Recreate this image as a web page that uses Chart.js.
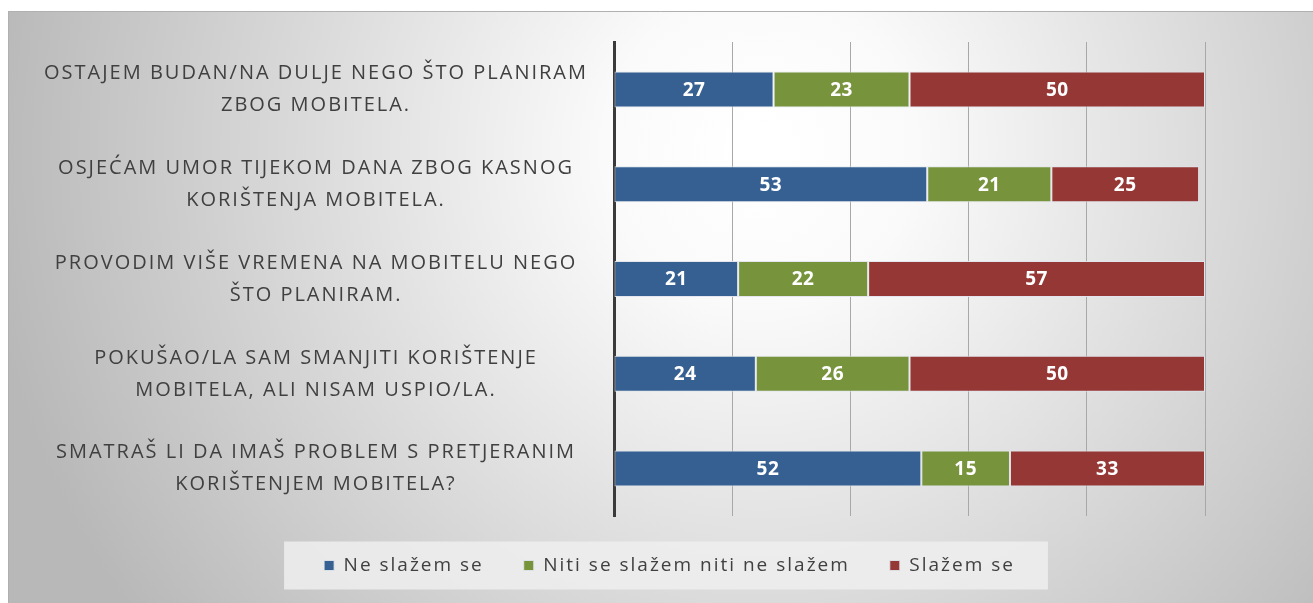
<!DOCTYPE html>
<html>
<head>
<meta charset="utf-8">
<script src="https://cdn.jsdelivr.net/npm/chart.js@4.4.0/dist/chart.umd.min.js"></script>
<style>
  html, body { margin: 0; padding: 0; background: #fff; }
  #wrap { width: 1313px; height: 603px; }
</style>
</head>
<body>
<div id="wrap"><canvas id="chart" width="1313" height="603"></canvas></div>
<script>
// podaci
const categories = [
  ['OSTAJEM BUDAN/NA DULJE NEGO ŠTO PLANIRAM', 'ZBOG MOBITELA.'],
  ['OSJEĆAM UMOR TIJEKOM DANA ZBOG KASNOG', 'KORIŠTENJA MOBITELA.'],
  ['PROVODIM VIŠE VREMENA NA MOBITELU NEGO', 'ŠTO PLANIRAM.'],
  ['POKUŠAO/LA SAM SMANJITI KORIŠTENJE', 'MOBITELA, ALI NISAM USPIO/LA.'],
  ['SMATRAŠ LI DA IMAŠ PROBLEM S PRETJERANIM', 'KORIŠTENJEM MOBITELA?']
];
const seriesNames = ['Ne slažem se', 'Niti se slažem niti ne slažem', 'Slažem se'];
const neSlazem = [27, 53, 21, 24, 52];
const niti = [23, 21, 22, 26, 15];
const slazem = [50, 25, 57, 50, 33];
const xMin = 0, xMax = 100, xStep = 20;

const colors = ['#376092', '#77933C', '#953735'];
const fontFamily = "'Open Sans', 'Liberation Sans', sans-serif";
const PAD_LEFT = 20;
const PLOT_LEFT = 614;   // gdje pocinje os
const LEGEND_SHIFT = 57; // legenda je malo desno od sredine

// pozadina s gradijentom i okvir legende
const backgroundPlugin = {
  id: 'background',
  beforeUpdate(chart) {
    chart.ctx.letterSpacing = '2px';
  },
  afterLayout(chart) {
    chart.legend.left += LEGEND_SHIFT;
    chart.legend.right += LEGEND_SHIFT;
  },
  beforeDraw(chart) {
    const ctx = chart.ctx;
    const w = chart.width, h = chart.height;
    ctx.save();
    ctx.fillStyle = '#ffffff';
    ctx.fillRect(0, 0, w, h);
    const g = ctx.createRadialGradient(760, 150, 20, 760, 150, 780);
    g.addColorStop(0, '#ffffff');
    g.addColorStop(0.18, '#fafafa');
    g.addColorStop(1, '#b8b8b8');
    ctx.fillStyle = g;
    ctx.fillRect(8, 11, w - 8, h - 11);
    ctx.strokeStyle = '#b0b0b0';
    ctx.lineWidth = 1;
    ctx.beginPath();
    ctx.moveTo(8.5, h);
    ctx.lineTo(8.5, 11.5);
    ctx.lineTo(w, 11.5);
    ctx.stroke();

    const boxes = chart.legend.legendHitBoxes;
    if (boxes && boxes.length) {
      const first = boxes[0], last = boxes[boxes.length - 1];
      const cy = first.top + first.height / 2;
      ctx.fillStyle = 'rgba(238, 238, 238, 0.85)';
      ctx.fillRect(first.left - 40, cy - 24, last.left + last.width + 33 - (first.left - 40), 48);
    }
    ctx.restore();
    ctx.letterSpacing = '2px';
  }
};

// brojevi unutar stupaca
const valueLabels = {
  id: 'valueLabels',
  afterDatasetsDraw(chart) {
    const ctx = chart.ctx;
    ctx.save();
    ctx.letterSpacing = '0.5px';
    ctx.font = 'bold 19px ' + fontFamily;
    ctx.fillStyle = '#ffffff';
    ctx.textAlign = 'center';
    ctx.textBaseline = 'middle';
    chart.data.datasets.forEach((ds, i) => {
      const meta = chart.getDatasetMeta(i);
      meta.data.forEach((bar, j) => {
        const cx = (bar.x + bar.base) / 2;
        ctx.fillText(String(ds.data[j]), cx, bar.y + 1);
      });
    });
    ctx.restore();
  }
};

const ctx = document.getElementById('chart').getContext('2d');
new Chart(ctx, {
  type: 'bar',
  data: {
    labels: categories,
    datasets: [
      { label: seriesNames[0], data: neSlazem, backgroundColor: colors[0] },
      { label: seriesNames[1], data: niti, backgroundColor: colors[1] },
      { label: seriesNames[2], data: slazem, backgroundColor: colors[2] }
    ].map(d => Object.assign(d, {
      borderColor: 'rgba(225, 230, 236, 0.9)',
      borderWidth: 1,
      borderSkipped: false,
      barPercentage: 0.38,
      categoryPercentage: 1
    }))
  },
  options: {
    indexAxis: 'y',
    responsive: false,
    animation: false,
    layout: { padding: { left: PAD_LEFT, right: 108, top: 42, bottom: 18 } },
    plugins: {
      legend: {
        position: 'bottom',
        labels: {
          boxWidth: 10,
          boxHeight: 10,
          padding: 40,
          color: '#404040',
          font: { family: fontFamily, size: 19 }
        }
      },
      tooltip: { enabled: false }
    },
    scales: {
      x: {
        stacked: true,
        min: xMin,
        max: xMax,
        ticks: { display: false, stepSize: xStep },
        grid: { color: '#a8a8a8', lineWidth: 1, drawTicks: false },
        border: { display: false }
      },
      y: {
        stacked: true,
        grid: { display: false, drawTicks: true, tickLength: 22 },
        border: { display: true, color: '#3a3a3a', width: 3 },
        ticks: {
          crossAlign: 'center',
          padding: 4,
          color: '#404040',
          font: { family: fontFamily, size: 20, lineHeight: 1.6 }
        },
        afterFit(scale) {
          scale.width = PLOT_LEFT - PAD_LEFT;
        }
      }
    }
  },
  plugins: [backgroundPlugin, valueLabels]
});
</script>
</body>
</html>
